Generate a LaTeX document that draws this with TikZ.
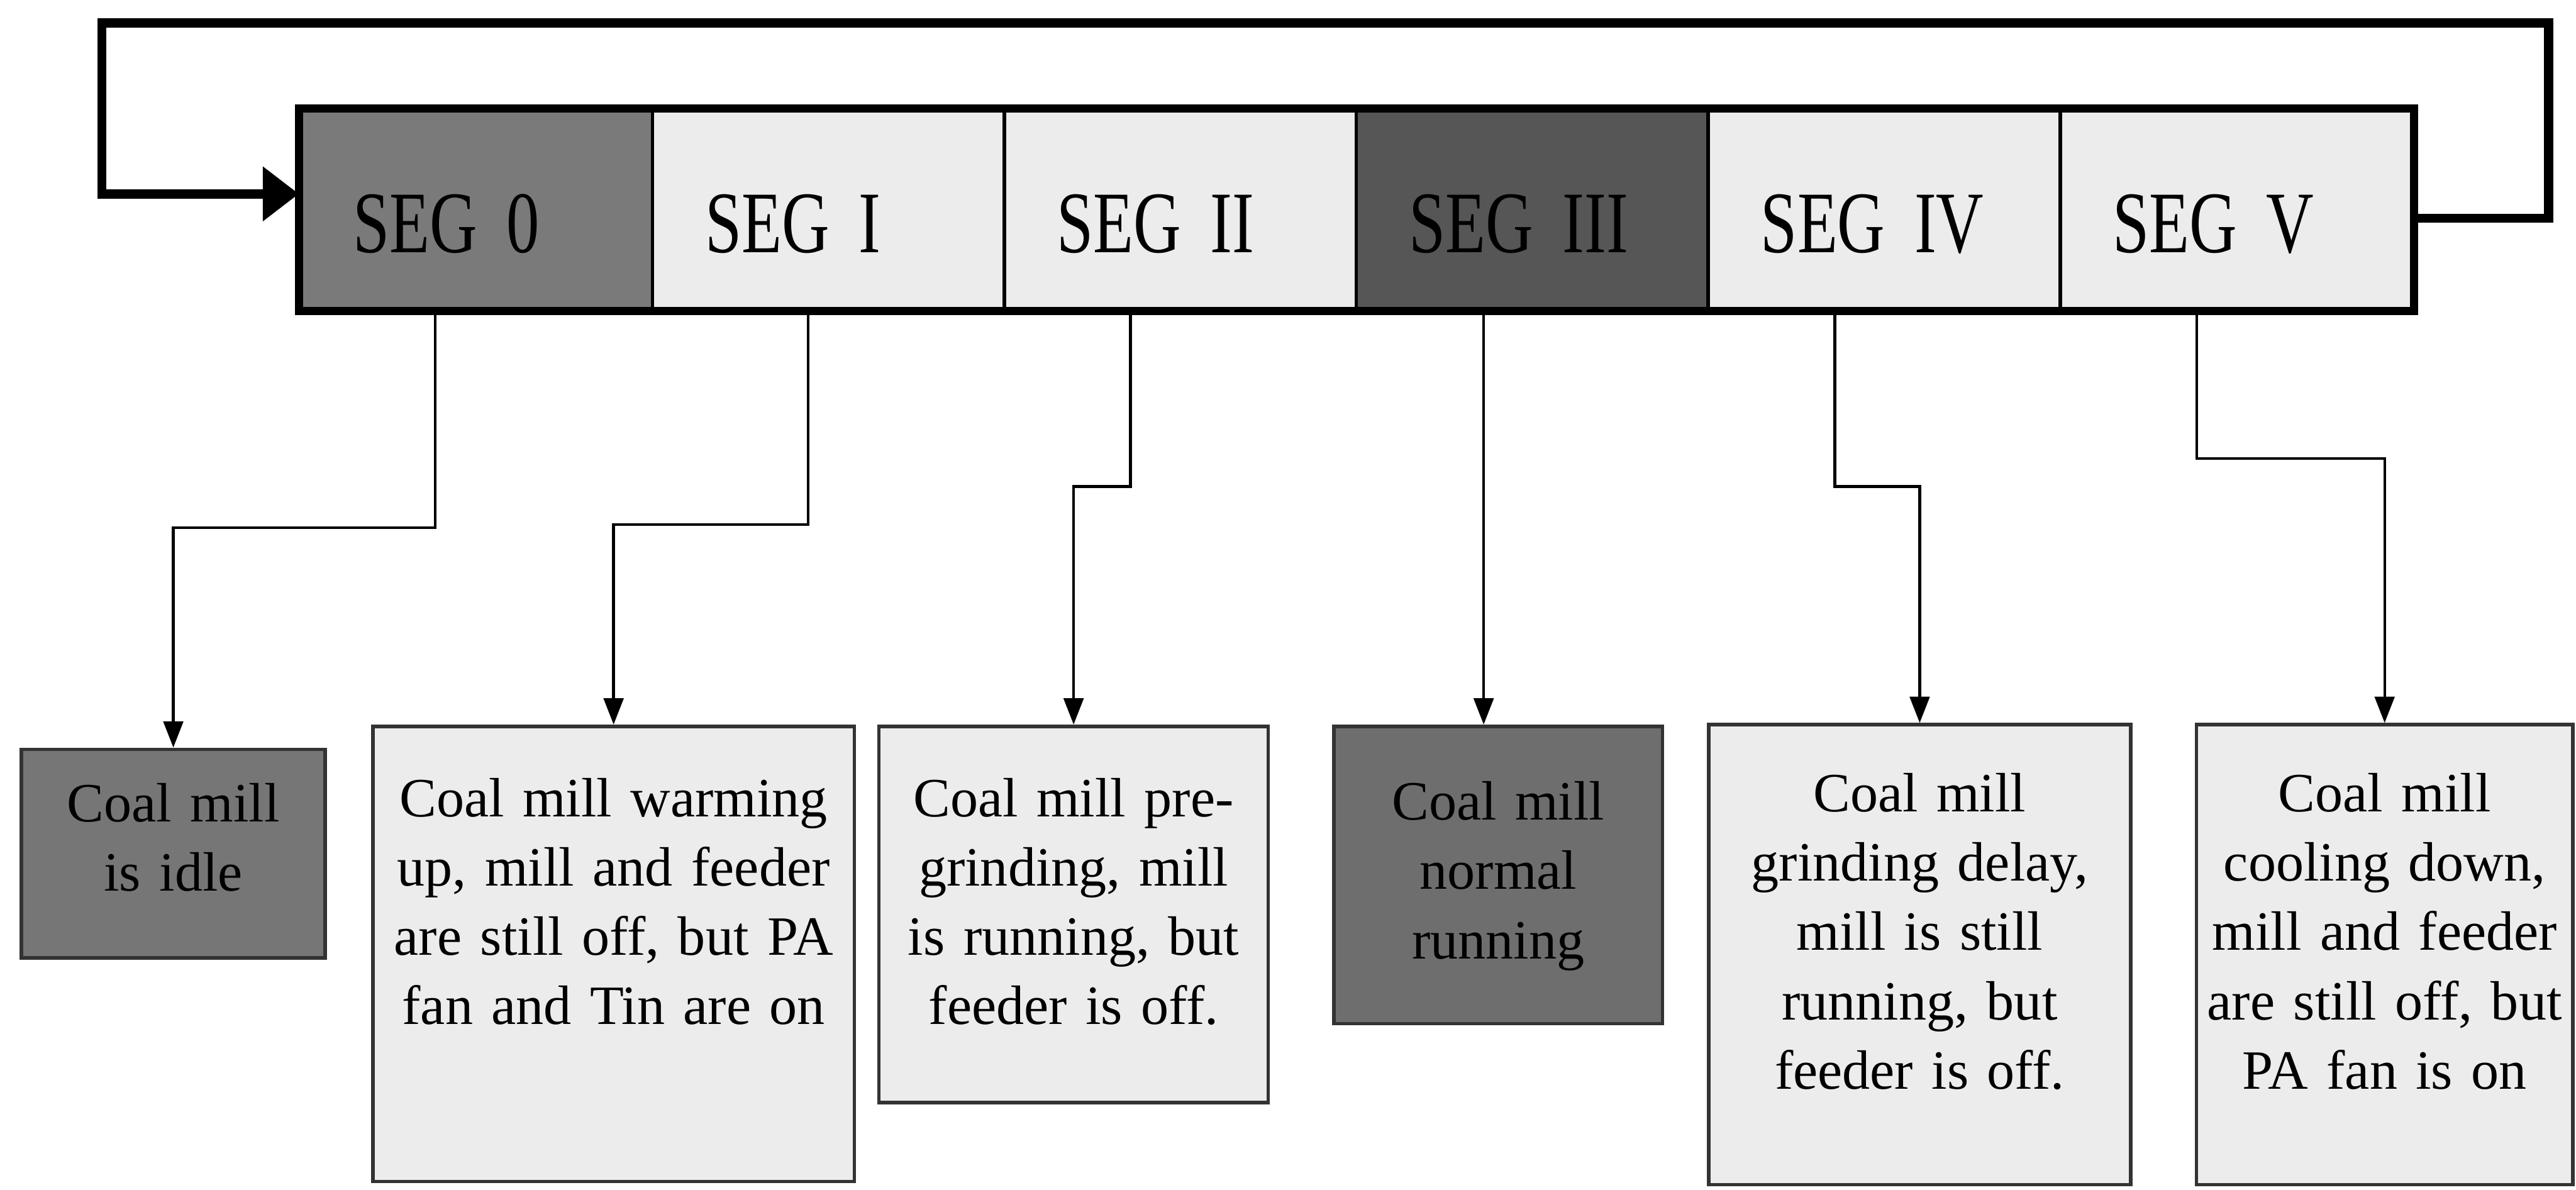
\documentclass[tikz,border=0pt]{standalone}
\usepackage{fontspec}
\setmainfont{Liberation Serif}
\newfontfamily\segfont[FakeStretch=0.75]{Liberation Serif}
\usetikzlibrary{arrows.meta}

\definecolor{segmid}{RGB}{122,122,122}
\definecolor{segdark}{RGB}{86,86,86}
\definecolor{seglight}{RGB}{236,236,236}
\definecolor{boxmid}{RGB}{118,118,118}
\definecolor{boxdark}{RGB}{110,110,110}

\tikzset{
  seg/.style={draw, line width=1.5pt, minimum width=5.355cm, minimum height=3.025cm,
    inner xsep=0.8cm, inner ysep=0pt, text width=3.755cm, align=left,
    text height=1.3cm, text depth=0pt, font=\segfont\fontsize{38}{40}\selectfont},
  statebox/.style={draw=black!80, line width=1.5pt, anchor=north, inner xsep=0.1cm,
    inner ysep=0pt, align=center, font=\fontsize{24}{30}\selectfont},
  conn/.style={line width=1.2pt, -{Triangle[length=0.4cm, width=0.3cm]}},
  loopline/.style={line width=4pt, -{Triangle[length=0.55cm, width=0.8cm]}},
}

\begin{document}
\begin{tikzpicture}
			%%%%% START %%%%%
			
			\fill[white] (0, 0) rectangle (39.2, -18.1);
			
			% segment bar
			\node[seg, fill=segmid] (s0) at (7.2525, -3.19) {SEG 0};
			\node[seg, fill=seglight] (s1) at (12.6075, -3.19) {SEG I};
			\node[seg, fill=seglight] (s2) at (17.9625, -3.19) {SEG II};
			\node[seg, fill=segdark] (s3) at (23.3175, -3.19) {SEG III};
			\node[seg, fill=seglight] (s4) at (28.6725, -3.19) {SEG IV};
			\node[seg, fill=seglight] (s5) at (34.0275, -3.19) {SEG V};
			\draw[line width=3.5pt] (s0.north west) rectangle (s5.south east);
			
			% loop back
			\draw[loopline] ([yshift=-1.3mm]s5.east) -- ++(2.05, 0) |- (1.55, -0.35) |- ([yshift=2.4mm]s0.west);
			
			% states
			\node[statebox, fill=boxmid, text width=4.425cm, text height=1.1cm, text depth=2.075cm] (b0) at (2.6375, -11.375) {Coal mill\\is idle};
			\node[statebox, fill=seglight, text width=7.125cm, text height=1.375cm, text depth=5.55cm] (b1) at (9.3375, -11.025) {Coal mill warming\\up, mill and feeder\\are still off, but PA\\fan and Tin are on};
			\node[statebox, fill=seglight, text width=5.725cm, text height=1.375cm, text depth=4.35cm] (b2) at (16.3375, -11.025) {Coal mill pre-\\grinding, mill\\is running, but\\feeder is off.};
			\node[statebox, fill=boxdark, text width=4.8cm, text height=1.425cm, text depth=3.1cm] (b3) at (22.8, -11.025) {Coal mill\\normal\\running};
			\node[statebox, fill=seglight, text width=6.225cm, text height=1.325cm, text depth=5.675cm] (b4) at (29.2125, -11.0) {Coal mill\\grinding delay,\\mill is still\\running, but\\feeder is off.};
			\node[statebox, fill=seglight, text width=5.525cm, text height=1.325cm, text depth=5.675cm] (b5) at (36.2875, -11.0) {Coal mill\\cooling down,\\mill and feeder\\are still off, but\\PA fan is on};
			
			% connectors
			\draw[conn] ([xshift=-6.3mm]s0.south) -- ++(0, -3.3) -| (b0.north);
			\draw[conn] ([xshift=-3.1mm]s1.south) -- ++(0, -3.25) -| (b1.north);
			\draw[conn] ([xshift=-7.6mm]s2.south) -- ++(0, -2.675) -| (b2.north);
			\draw[conn] ([xshift=-7.4mm]s3.south) -- ([xshift=-7.4mm]s3.south |- b3.north);
			\draw[conn] ([xshift=-7.5mm]s4.south) -- ++(0, -2.675) -| (b4.north);
			\draw[conn] ([xshift=-6mm]s5.south) -- ++(0, -2.25) -| (b5.north);
			
			%%%%% END %%%%%
\end{tikzpicture}
\end{document}
